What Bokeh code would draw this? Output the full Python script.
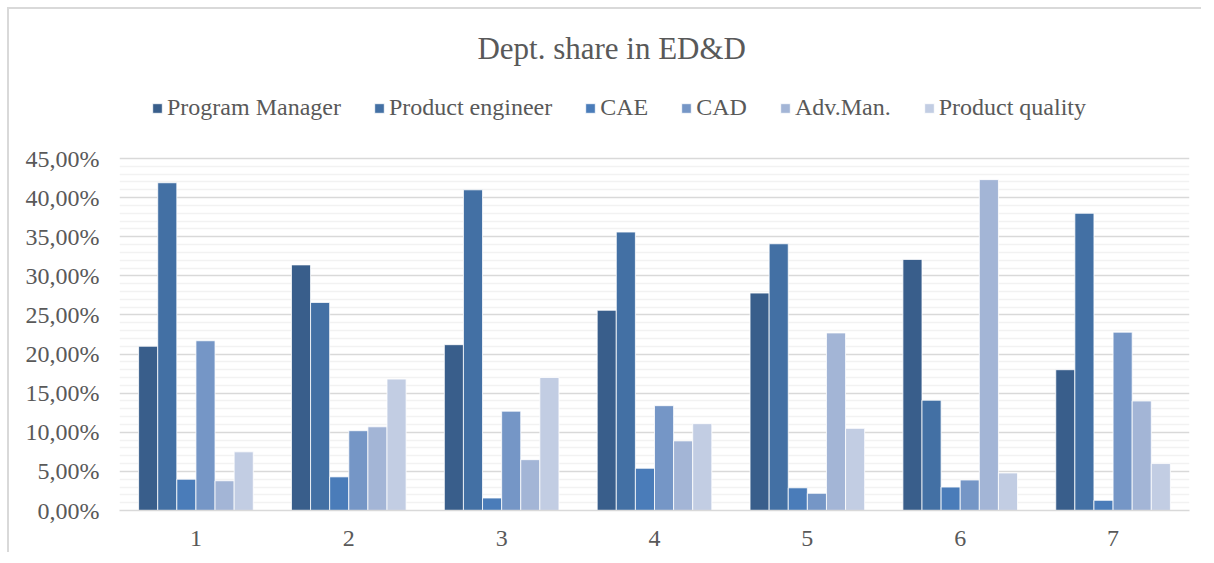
from bokeh.plotting import figure
from bokeh.models import (ColumnDataSource, FactorRange, Range1d, FixedTicker,
                          CustomJSTickFormatter, Legend, LegendItem, Label)
from bokeh.transform import dodge
from bokeh.embed import file_html
from bokeh.resources import INLINE

groups = ["1", "2", "3", "4", "5", "6", "7"]
series = ["Program Manager", "Product engineer", "CAE", "CAD", "Adv.Man.", "Product quality"]
program_manager = [0.210, 0.314, 0.212, 0.256, 0.278, 0.321, 0.180]
product_engineer = [0.419, 0.266, 0.410, 0.356, 0.341, 0.141, 0.380]
cae = [0.040, 0.043, 0.016, 0.054, 0.029, 0.030, 0.013]
cad = [0.217, 0.102, 0.127, 0.134, 0.022, 0.039, 0.228]
adv_man = [0.038, 0.107, 0.065, 0.089, 0.227, 0.423, 0.140]
product_quality = [0.075, 0.168, 0.170, 0.111, 0.105, 0.048, 0.060]
colors = ["#395E8B", "#4370A4", "#4A7CB9", "#7596C6", "#A3B5D6", "#C2CDE3"]
y_major = [0.00, 0.05, 0.10, 0.15, 0.20, 0.25, 0.30, 0.35, 0.40, 0.45]
y_minor = [round(k / 100, 2) for k in range(1, 45) if k % 5 != 0]

data = dict(g=groups, s0=program_manager, s1=product_engineer, s2=cae,
            s3=cad, s4=adv_man, s5=product_quality)
src = ColumnDataSource(data)

FONT = "Liberation Serif"
TXT = "#595959"

p = figure(width=1194, height=545, output_backend="svg", toolbar_location=None,
           x_range=FactorRange(*groups, range_padding=0.0),
           y_range=Range1d(0, 0.6405),
           min_border_left=110, min_border_right=14, min_border_bottom=44,
           min_border_top=0)
p.outline_line_color = None
p.border_fill_color = "white"
p.background_fill_color = "white"

title = Label(x=3.22, y=0.591, text="Dept. share in ED&D",
              text_font=FONT, text_font_size="31px", text_color=TXT,
              text_align="center", text_baseline="middle")
p.add_layout(title)

bw = 0.125
offsets = [-0.3125, -0.1875, -0.0625, 0.0625, 0.1875, 0.3125]
renderers = []
for i in range(6):
    r = p.vbar(x=dodge("g", offsets[i], range=p.x_range), top="s%d" % i, width=bw,
               source=src, fill_color=colors[i], line_color="#FFFFFF", line_width=0.8)
    renderers.append(r)

legend = Legend(items=[LegendItem(label=series[i], renderers=[renderers[i]]) for i in range(6)],
                orientation="horizontal", location=(32, 389))
legend.label_text_font = FONT
legend.label_text_font_size = "24px"
legend.label_text_color = TXT
legend.glyph_width = 12
legend.glyph_height = 12
legend.label_standoff = 4
legend.spacing = 32
legend.border_line_color = None
legend.background_fill_alpha = 0
legend.padding = 0
legend.margin = 0
p.add_layout(legend, "center")

p.yaxis.ticker = FixedTicker(ticks=y_major, minor_ticks=y_minor)
p.yaxis.formatter = CustomJSTickFormatter(
    code="return (tick*100).toFixed(2).replace('.', ',') + '%';")
p.yaxis.axis_line_color = None
p.yaxis.major_tick_line_color = None
p.yaxis.minor_tick_line_color = None
p.yaxis.major_label_text_font = FONT
p.yaxis.major_label_text_font_size = "24px"
p.yaxis.major_label_text_color = TXT
p.yaxis.major_label_standoff = 14

p.xaxis.axis_line_color = "#D9D9D9"
p.xaxis.axis_line_width = 1.5
p.xaxis.major_tick_line_color = None
p.xaxis.minor_tick_line_color = None
p.xaxis.major_label_text_font = FONT
p.xaxis.major_label_text_font_size = "24px"
p.xaxis.major_label_text_color = TXT
p.xaxis.major_label_standoff = 14

p.xgrid.grid_line_color = None
p.ygrid.grid_line_color = "#D9D9D9"
p.ygrid.grid_line_width = 1.5
p.ygrid.minor_grid_line_color = "#F2F2F2"
p.ygrid.minor_grid_line_width = 1.5

p.styles = {"border-top": "2px solid #D9D9D9", "border-left": "2px solid #D9D9D9",
            "margin-left": "7px", "margin-top": "7px"}

open("out.html", "w").write(file_html(p, INLINE))
